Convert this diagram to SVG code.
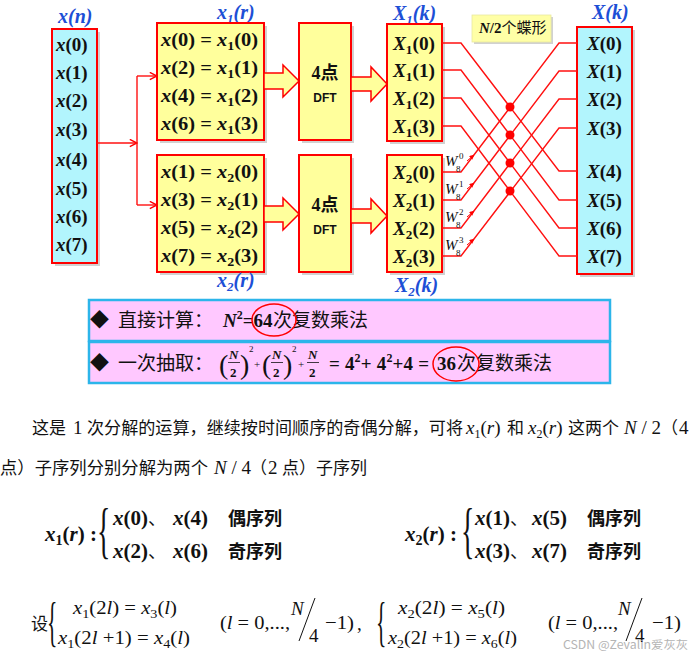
<svg xmlns="http://www.w3.org/2000/svg" width="695" height="659" viewBox="0 0 695 659">
<defs>
<style>
.cy{fill:#b2f5fd;stroke:#ff0000;stroke-width:2}
.yl{fill:#ffff9c;stroke:#ff0000;stroke-width:2}
.sh{fill:#000;opacity:0.18}
.m{font-family:"Liberation Serif","Times New Roman",serif;font-weight:bold;font-size:19px;fill:#111}
.i{font-style:italic}
.lb{font-family:"Liberation Serif",serif;font-weight:bold;font-style:italic;font-size:20px;fill:#1d4fd6}
.cn{font-family:"Noto Sans CJK SC",sans-serif}
.w{stroke:#ff1010;stroke-width:1.4;fill:none}
.ar{fill:#ffff9c;stroke:#ff0000;stroke-width:1.5}
.pk{fill:#ffc8ff;stroke:#2cb5ea;stroke-width:2.5}
.pc{font-family:"Noto Sans CJK SC",sans-serif;font-size:19px;fill:#111}
.pm{font-family:"Liberation Serif",serif;font-weight:bold;font-size:19px;fill:#111}
.tc{font-family:"Noto Sans CJK SC",sans-serif;font-size:17px;fill:#111}
.tm{font-family:"Liberation Serif",serif;font-size:19px;fill:#111}
.bm{font-family:"Liberation Serif",serif;font-weight:bold;font-size:21px;fill:#111}
.bc{font-family:"Noto Sans CJK SC",sans-serif;font-weight:bold;font-size:18px;fill:#111}
.br{font-family:"Liberation Serif",serif;fill:#111}
.wl{font-family:"Liberation Serif",serif;font-style:italic;font-size:15px;fill:#111}
.ws{font-family:"Liberation Serif",serif;font-size:9px;fill:#111}
</style>
<marker id="ah" viewBox="0 0 10 10" refX="9" refY="5" markerWidth="9" markerHeight="9" markerUnits="userSpaceOnUse" orient="auto"><path d="M1,1 L9,5 L1,9" fill="none" stroke="#ff0000" stroke-width="1.6"/></marker>
<marker id="sa" viewBox="0 0 10 10" refX="9" refY="5" markerWidth="5" markerHeight="5" markerUnits="userSpaceOnUse" orient="auto"><path d="M0,0 L10,5 L0,10 Z" fill="#ff0000"/></marker>
</defs>
<rect width="695" height="659" fill="#fff"/>

<!-- x(n) -->
<g id="xn">
<text class="lb" x="58" y="23">x(n)</text>
<rect class="sh" x="55" y="32" width="45" height="234"/>
<rect class="cy" x="52" y="29" width="45" height="234"/>
<g class="m">
<text x="56" y="51"><tspan class="i">x</tspan>(0)</text>
<text x="56" y="79"><tspan class="i">x</tspan>(1)</text>
<text x="56" y="107"><tspan class="i">x</tspan>(2)</text>
<text x="56" y="136"><tspan class="i">x</tspan>(3)</text>
<text x="56" y="166"><tspan class="i">x</tspan>(4)</text>
<text x="56" y="195"><tspan class="i">x</tspan>(5)</text>
<text x="56" y="223"><tspan class="i">x</tspan>(6)</text>
<text x="56" y="251"><tspan class="i">x</tspan>(7)</text>
</g>
</g>

<!-- x1(r) -->
<g id="x1r">
<text class="lb" x="217" y="19">x<tspan font-size="13" dy="4">1</tspan><tspan dy="-4">(r)</tspan></text>
<rect class="sh" x="160" y="26" width="107" height="117"/>
<rect class="yl" x="157" y="23" width="107" height="117"/>
<g class="m">
<text x="161" y="45.5" textLength="97" lengthAdjust="spacingAndGlyphs"><tspan class="i">x</tspan>(0) = <tspan class="i">x</tspan><tspan font-size="13" dy="4">1</tspan><tspan dy="-4">(0)</tspan></text>
<text x="161" y="73.5" textLength="97" lengthAdjust="spacingAndGlyphs"><tspan class="i">x</tspan>(2) = <tspan class="i">x</tspan><tspan font-size="13" dy="4">1</tspan><tspan dy="-4">(1)</tspan></text>
<text x="161" y="102" textLength="97" lengthAdjust="spacingAndGlyphs"><tspan class="i">x</tspan>(4) = <tspan class="i">x</tspan><tspan font-size="13" dy="4">1</tspan><tspan dy="-4">(2)</tspan></text>
<text x="161" y="130" textLength="97" lengthAdjust="spacingAndGlyphs"><tspan class="i">x</tspan>(6) = <tspan class="i">x</tspan><tspan font-size="13" dy="4">1</tspan><tspan dy="-4">(3)</tspan></text>
</g>
</g>

<!-- x2(r) -->
<g id="x2r">
<rect class="sh" x="160" y="158" width="107" height="117"/>
<rect class="yl" x="157" y="155" width="107" height="117"/>
<g class="m">
<text x="161" y="177.5" textLength="97" lengthAdjust="spacingAndGlyphs"><tspan class="i">x</tspan>(1) = <tspan class="i">x</tspan><tspan font-size="13" dy="4">2</tspan><tspan dy="-4">(0)</tspan></text>
<text x="161" y="205.5" textLength="97" lengthAdjust="spacingAndGlyphs"><tspan class="i">x</tspan>(3) = <tspan class="i">x</tspan><tspan font-size="13" dy="4">2</tspan><tspan dy="-4">(1)</tspan></text>
<text x="161" y="233.5" textLength="97" lengthAdjust="spacingAndGlyphs"><tspan class="i">x</tspan>(5) = <tspan class="i">x</tspan><tspan font-size="13" dy="4">2</tspan><tspan dy="-4">(2)</tspan></text>
<text x="161" y="262" textLength="97" lengthAdjust="spacingAndGlyphs"><tspan class="i">x</tspan>(7) = <tspan class="i">x</tspan><tspan font-size="13" dy="4">2</tspan><tspan dy="-4">(3)</tspan></text>
</g>
<text class="lb" x="217" y="287">x<tspan font-size="13" dy="4">2</tspan><tspan dy="-4">(r)</tspan></text>
</g>

<!-- DFT blocks -->
<g id="dft1">
<rect class="sh" x="302" y="26" width="52" height="117"/>
<rect class="yl" x="299" y="23" width="52" height="117"/>
<text x="325" y="79" text-anchor="middle" style="font-size:18px;font-weight:bold;fill:#111"><tspan style="font-family:'Liberation Serif',serif">4</tspan><tspan class="cn">点</tspan></text>
<text x="325" y="102" text-anchor="middle" style="font-family:'Liberation Sans',sans-serif;font-size:12px;font-weight:bold;fill:#111">DFT</text>
</g>
<g id="dft2">
<rect class="sh" x="302" y="158" width="52" height="117"/>
<rect class="yl" x="299" y="155" width="52" height="117"/>
<text x="325" y="211" text-anchor="middle" style="font-size:18px;font-weight:bold;fill:#111"><tspan style="font-family:'Liberation Serif',serif">4</tspan><tspan class="cn">点</tspan></text>
<text x="325" y="234" text-anchor="middle" style="font-family:'Liberation Sans',sans-serif;font-size:12px;font-weight:bold;fill:#111">DFT</text>
</g>

<!-- X1(k) -->
<g id="X1k">
<text class="lb" x="393" y="20">X<tspan font-size="13" dy="4">1</tspan><tspan dy="-4">(k)</tspan></text>
<rect class="sh" x="390" y="27" width="55" height="117"/>
<rect class="yl" x="387" y="24" width="55" height="117"/>
<g class="m">
<text x="393" y="49.5" textLength="42" lengthAdjust="spacingAndGlyphs"><tspan class="i">X</tspan><tspan font-size="13" dy="4">1</tspan><tspan dy="-4">(0)</tspan></text>
<text x="393" y="76.5" textLength="42" lengthAdjust="spacingAndGlyphs"><tspan class="i">X</tspan><tspan font-size="13" dy="4">1</tspan><tspan dy="-4">(1)</tspan></text>
<text x="393" y="104.5" textLength="42" lengthAdjust="spacingAndGlyphs"><tspan class="i">X</tspan><tspan font-size="13" dy="4">1</tspan><tspan dy="-4">(2)</tspan></text>
<text x="393" y="132.5" textLength="42" lengthAdjust="spacingAndGlyphs"><tspan class="i">X</tspan><tspan font-size="13" dy="4">1</tspan><tspan dy="-4">(3)</tspan></text>
</g>
</g>

<!-- X2(k) -->
<g id="X2k">
<rect class="sh" x="390" y="158" width="55" height="117"/>
<rect class="yl" x="387" y="155" width="55" height="117"/>
<g class="m">
<text x="393" y="178.5" textLength="42" lengthAdjust="spacingAndGlyphs"><tspan class="i">X</tspan><tspan font-size="13" dy="4">2</tspan><tspan dy="-4">(0)</tspan></text>
<text x="393" y="206.5" textLength="42" lengthAdjust="spacingAndGlyphs"><tspan class="i">X</tspan><tspan font-size="13" dy="4">2</tspan><tspan dy="-4">(1)</tspan></text>
<text x="393" y="234.5" textLength="42" lengthAdjust="spacingAndGlyphs"><tspan class="i">X</tspan><tspan font-size="13" dy="4">2</tspan><tspan dy="-4">(2)</tspan></text>
<text x="393" y="262.5" textLength="42" lengthAdjust="spacingAndGlyphs"><tspan class="i">X</tspan><tspan font-size="13" dy="4">2</tspan><tspan dy="-4">(3)</tspan></text>
</g>
<text class="lb" x="395" y="292">X<tspan font-size="13" dy="4">2</tspan><tspan dy="-4">(k)</tspan></text>
</g>

<!-- X(k) -->
<g id="Xk">
<text class="lb" x="592" y="19">X(k)</text>
<rect class="sh" x="580" y="30" width="55" height="247"/>
<rect class="cy" x="577" y="27" width="55" height="247"/>
<g class="m">
<text x="587" y="49.5"><tspan class="i">X</tspan>(0)</text>
<text x="587" y="77.5"><tspan class="i">X</tspan>(1)</text>
<text x="587" y="105.5"><tspan class="i">X</tspan>(2)</text>
<text x="587" y="134.5"><tspan class="i">X</tspan>(3)</text>
<text x="587" y="177.5"><tspan class="i">X</tspan>(4)</text>
<text x="587" y="206.5"><tspan class="i">X</tspan>(5)</text>
<text x="587" y="234.5"><tspan class="i">X</tspan>(6)</text>
<text x="587" y="262.5"><tspan class="i">X</tspan>(7)</text>
</g>
</g>

<!-- butterfly label -->
<g id="bfly-label">
<rect class="sh" x="474" y="17" width="79" height="27"/>
<rect x="472" y="15" width="79" height="27" fill="#ffffa6" stroke="#e8e8a0" stroke-width="0.8"/>
<text x="479" y="33" style="font-size:15px;fill:#111"><tspan style="font-family:'Liberation Serif',serif;font-weight:bold;font-style:italic">N</tspan><tspan style="font-family:'Liberation Serif',serif;font-weight:bold">/2</tspan><tspan class="cn">个蝶形</tspan></text>
</g>

<!-- connectors -->
<g id="connectors">
<path class="ar" d="M264,73 H283 V65 L299,81 L283,97 V89 H264 Z"/>
<path class="ar" d="M351,77 H371 V67 L387,84 L371,101 V91 H351 Z"/>
<path class="ar" d="M264,206 H283 V198 L299,214 L283,230 V222 H264 Z"/>
<path class="ar" d="M351,209 H371 V199 L387,216 L371,233 V223 H351 Z"/>

<path class="w" d="M97,143 H137" marker-end="url(#ah)"/>
<path class="w" d="M137,76 V205"/>
<path class="w" d="M137,76 H157" marker-end="url(#ah)"/>
<path class="w" d="M137,205 H157" marker-end="url(#ah)"/>

<path class="w" d="M442,43 H461 L559,171 H577"/>
<path class="w" d="M442,172 H461 L559,43 H577"/>
<path class="w" d="M442,70 H461 L559,200 H577"/>
<path class="w" d="M442,200 H461 L559,71 H577"/>
<path class="w" d="M442,98 H461 L559,228 H577"/>
<path class="w" d="M442,228 H461 L559,99 H577"/>
<path class="w" d="M442,126 H461 L559,256 H577"/>
<path class="w" d="M442,256 H461 L559,128 H577"/>
<g fill="#ff0000">
<circle cx="510" cy="107" r="4.5"/>
<circle cx="510" cy="135" r="4.5"/>
<circle cx="510" cy="163" r="4.5"/>
<circle cx="510" cy="191" r="4.5"/>
</g>
<g stroke="#ff0000" stroke-width="1" fill="none">
<path d="M467,161 L474,155" marker-end="url(#sa)"/>
<path d="M467,189 L474,183" marker-end="url(#sa)"/>
<path d="M467,217 L474,211" marker-end="url(#sa)"/>
<path d="M467,245 L474,239" marker-end="url(#sa)"/>
</g>
<g>
<text class="wl" x="445" y="166">W</text><text class="ws" x="456" y="172">8</text><text class="ws" x="459" y="159">0</text>
<text class="wl" x="445" y="194">W</text><text class="ws" x="456" y="200">8</text><text class="ws" x="459" y="187">1</text>
<text class="wl" x="445" y="222">W</text><text class="ws" x="456" y="228">8</text><text class="ws" x="459" y="215">2</text>
<text class="wl" x="445" y="250">W</text><text class="ws" x="456" y="256">8</text><text class="ws" x="459" y="243">3</text>
</g>
</g>

<!-- pink boxes -->
<g id="direct">
<rect class="pk" x="89" y="300" width="521" height="41"/>
<text class="pc" x="90" y="327" font-size="16">◆</text>
<text class="pc" x="118" y="327">直接计算：</text>
<text class="pm" x="223" y="327"><tspan class="i">N</tspan><tspan font-size="12" dy="-8">2</tspan><tspan dy="8">=64</tspan></text>
<text class="pc" x="273" y="327">次复数乘法</text>
<ellipse cx="274" cy="320" rx="22" ry="16" fill="none" stroke="#ff0000" stroke-width="1.5"/>
</g>
<g id="decim">
<rect class="pk" x="89" y="342" width="521" height="41"/>
<text class="pc" x="90" y="370" font-size="16">◆</text>
<text class="pc" x="118" y="370">一次抽取：</text>
<g class="br">
<text x="219" y="374" font-size="28" font-weight="normal">(</text>
<text x="229" y="359" font-size="13" font-weight="bold" font-style="italic">N</text>
<line x1="228" y1="362.5" x2="240" y2="362.5" stroke="#111" stroke-width="0.8"/>
<text x="230" y="377" font-size="13" font-weight="bold">2</text>
<text x="240" y="374" font-size="28">)</text>
<text x="249" y="352" font-size="9">2</text>
<text x="254" y="368" font-size="11">+</text>
<text x="262" y="374" font-size="28">(</text>
<text x="272" y="359" font-size="13" font-weight="bold" font-style="italic">N</text>
<line x1="271" y1="362.5" x2="283" y2="362.5" stroke="#111" stroke-width="0.8"/>
<text x="273" y="377" font-size="13" font-weight="bold">2</text>
<text x="283" y="374" font-size="28">)</text>
<text x="292" y="352" font-size="9">2</text>
<text x="298" y="368" font-size="11">+</text>
<text x="308" y="359" font-size="13" font-weight="bold" font-style="italic">N</text>
<line x1="307" y1="362.5" x2="319" y2="362.5" stroke="#111" stroke-width="0.8"/>
<text x="309" y="377" font-size="13" font-weight="bold">2</text>
</g>
<text class="pm" x="329" y="370" textLength="100" lengthAdjust="spacing">= 4<tspan font-size="12" dy="-8">2</tspan><tspan dy="8">+ 4</tspan><tspan font-size="12" dy="-8">2</tspan><tspan dy="8">+4 =</tspan></text>
<text class="pm" x="437" y="370">36</text>
<text class="pc" x="457" y="370">次复数乘法</text>
<ellipse cx="456" cy="364" rx="23" ry="17" fill="none" stroke="#ff0000" stroke-width="1.5"/>
</g>

<!-- paragraph -->
<g id="para">
<text class="tc" x="32" y="434">这是</text>
<text class="tm" x="73" y="434">1</text>
<text class="tc" x="87" y="434" textLength="376" lengthAdjust="spacingAndGlyphs">次分解的运算，继续按时间顺序的奇偶分解，可将</text>
<text class="tm" x="466" y="434"><tspan class="i">x</tspan><tspan font-size="12" dy="4">1</tspan><tspan dy="-4">(</tspan><tspan class="i">r</tspan>)</text>
<text class="tc" x="507" y="434">和</text>
<text class="tm" x="528" y="434"><tspan class="i">x</tspan><tspan font-size="12" dy="4">2</tspan><tspan dy="-4">(</tspan><tspan class="i">r</tspan>)</text>
<text class="tc" x="568" y="434">这两个</text>
<text class="tm" x="624" y="434"><tspan class="i">N</tspan> / 2</text>
<text class="tc" x="661" y="434">（</text>
<text class="tm" x="679" y="434">4</text>
<text class="tc" x="0" y="474" textLength="208" lengthAdjust="spacingAndGlyphs">点）子序列分别分解为两个</text>
<text class="tm" x="214" y="474"><tspan class="i">N</tspan> / 4</text>
<text class="tc" x="250" y="474">（</text>
<text class="tm" x="268" y="474">2</text>
<text class="tc" x="282" y="474">点）子序列</text>
</g>

<!-- sequences -->
<g id="seq1">
<text class="bm" x="45" y="541"><tspan class="i">x</tspan><tspan font-size="14" dy="4">1</tspan><tspan dy="-4">(</tspan><tspan class="i">r</tspan>) :</text>
<text class="br" transform="translate(97,551) scale(0.45,1)" font-size="62">{</text>
<text class="bm" x="113" y="525"><tspan class="i">x</tspan>(0)<tspan class="cn" font-weight="normal" font-size="18">、</tspan></text>
<text class="bm" x="173" y="525"><tspan class="i">x</tspan>(4)</text>
<text class="bc" x="228" y="525">偶序列</text>
<text class="bm" x="113" y="558"><tspan class="i">x</tspan>(2)<tspan class="cn" font-weight="normal" font-size="18">、</tspan></text>
<text class="bm" x="173" y="558"><tspan class="i">x</tspan>(6)</text>
<text class="bc" x="228" y="558">奇序列</text>
</g>
<g id="seq2">
<text class="bm" x="405" y="541"><tspan class="i">x</tspan><tspan font-size="14" dy="4">2</tspan><tspan dy="-4">(</tspan><tspan class="i">r</tspan>) :</text>
<text class="br" transform="translate(461,551) scale(0.45,1)" font-size="62">{</text>
<text class="bm" x="475" y="525"><tspan class="i">x</tspan>(1)<tspan class="cn" font-weight="normal" font-size="18">、</tspan></text>
<text class="bm" x="532" y="525"><tspan class="i">x</tspan>(5)</text>
<text class="bc" x="587" y="525">偶序列</text>
<text class="bm" x="475" y="558"><tspan class="i">x</tspan>(3)<tspan class="cn" font-weight="normal" font-size="18">、</tspan></text>
<text class="bm" x="532" y="558"><tspan class="i">x</tspan>(7)</text>
<text class="bc" x="587" y="558">奇序列</text>
</g>

<!-- definitions -->
<g id="def1">
<text class="tc" x="31" y="630">设</text>
<text class="br" transform="translate(47,640) scale(0.4,1)" font-size="54">{</text>
<text class="tm" x="73" y="614" textLength="104" lengthAdjust="spacingAndGlyphs"><tspan class="i">x</tspan><tspan font-size="13" dy="4">1</tspan><tspan dy="-4">(2</tspan><tspan class="i">l</tspan>) = <tspan class="i">x</tspan><tspan font-size="13" dy="4">3</tspan><tspan dy="-4">(</tspan><tspan class="i">l</tspan>)</text>
<text class="tm" x="58" y="644" textLength="132" lengthAdjust="spacingAndGlyphs"><tspan class="i">x</tspan><tspan font-size="13" dy="4">1</tspan><tspan dy="-4">(2</tspan><tspan class="i">l</tspan> +1) = <tspan class="i">x</tspan><tspan font-size="13" dy="4">4</tspan><tspan dy="-4">(</tspan><tspan class="i">l</tspan>)</text>
<text class="tm" x="220" y="629" textLength="70" lengthAdjust="spacingAndGlyphs">(<tspan class="i">l</tspan> = 0,...,</text>
<text class="tm" x="291" y="615" font-size="17"><tspan class="i">N</tspan></text>
<line x1="315" y1="598" x2="299" y2="641" stroke="#111" stroke-width="1"/>
<text class="tm" x="309" y="642">4</text>
<text class="tm" x="325" y="629" textLength="29" lengthAdjust="spacingAndGlyphs">−1)</text>
<text class="tm" x="357" y="630">,</text>
</g>
<g id="def2">
<text class="br" transform="translate(376,640) scale(0.4,1)" font-size="54">{</text>
<text class="tm" x="398" y="614" textLength="107" lengthAdjust="spacingAndGlyphs"><tspan class="i">x</tspan><tspan font-size="13" dy="4">2</tspan><tspan dy="-4">(2</tspan><tspan class="i">l</tspan>) = <tspan class="i">x</tspan><tspan font-size="13" dy="4">5</tspan><tspan dy="-4">(</tspan><tspan class="i">l</tspan>)</text>
<text class="tm" x="388" y="644" textLength="129" lengthAdjust="spacingAndGlyphs"><tspan class="i">x</tspan><tspan font-size="13" dy="4">2</tspan><tspan dy="-4">(2</tspan><tspan class="i">l</tspan> +1) = <tspan class="i">x</tspan><tspan font-size="13" dy="4">6</tspan><tspan dy="-4">(</tspan><tspan class="i">l</tspan>)</text>
<text class="tm" x="548" y="629" textLength="70" lengthAdjust="spacingAndGlyphs">(<tspan class="i">l</tspan> = 0,...,</text>
<text class="tm" x="618" y="615" font-size="17"><tspan class="i">N</tspan></text>
<line x1="642" y1="598" x2="626" y2="641" stroke="#111" stroke-width="1"/>
<text class="tm" x="635" y="642">4</text>
<text class="tm" x="652" y="629" textLength="29" lengthAdjust="spacingAndGlyphs">−1)</text>
</g>

<text x="563" y="649" textLength="125" lengthAdjust="spacingAndGlyphs" style="font-family:'Noto Sans CJK SC',sans-serif;font-size:11.5px;fill:#b4b4b4">CSDN @Zevalin爱灰灰</text>
</svg>
